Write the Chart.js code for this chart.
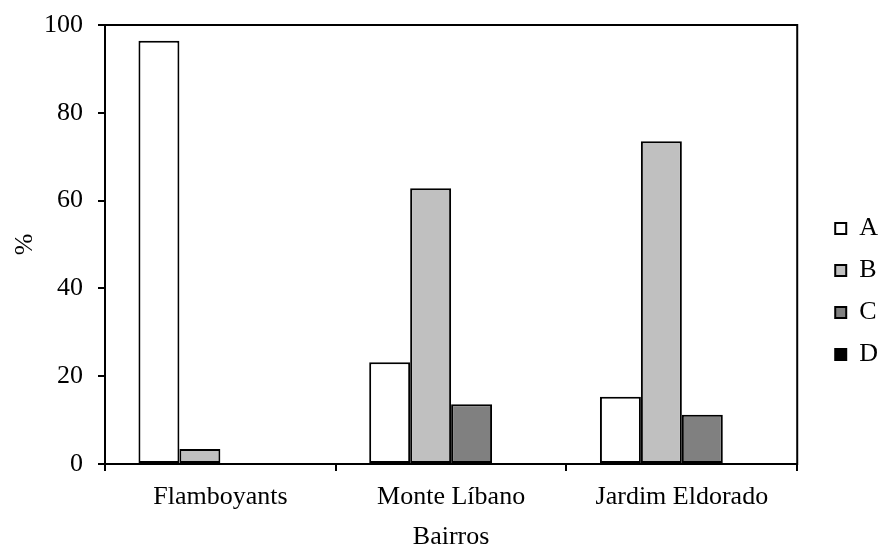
<!DOCTYPE html>
<html>
<head>
<meta charset="utf-8">
<script src="https://cdn.jsdelivr.net/npm/chart.js@4/dist/chart.umd.min.js"></script>
<style>
  html, body { margin: 0; padding: 0; background: #fff; }
  #wrap { width: 880px; height: 546px; }
</style>
</head>
<body>
<div id="wrap"><canvas id="grafic" width="880" height="546"></canvas></div>
<script>
////////////////////////////// dades ////////////////////////////////////////////
var bairros = ["Flamboyants", "Monte Líbano", "Jardim Eldorado"]
var serieA = [96.4, 23.2, 15.3]
var serieB = [3.4, 62.8, 73.5]
var serieC = [0, 13.6, 11.2]
var serieD = [0, 0, 0]
var ticksY = [0, 20, 40, 60, 80, 100]
////////////////////////////////////////////////////////////////////////////////

var font_serif = "'Liberation Serif', 'Times New Roman', serif"

// marc negre al voltant de l'area del grafic
var marc = {
  id: 'marc',
  afterDraw: function(chart) {
    var a = chart.chartArea
    var ctx = chart.ctx
    ctx.save()
    ctx.strokeStyle = '#000'
    ctx.lineWidth = 2
    ctx.strokeRect(a.left, a.top, a.right - a.left, a.bottom - a.top)
    ctx.restore()
  }
}

function serie(label, color, valors) {
  return {
    label: label,
    data: valors,
    backgroundColor: color,
    borderColor: '#000',
    borderWidth: 2,
    borderSkipped: false,
    categoryPercentage: 0.71,
    barPercentage: 1.0
  }
}

var ctx = document.getElementById('grafic').getContext('2d')
var grafic = new Chart(ctx, {
  type: 'bar',
  data: {
    labels: bairros,
    datasets: [
      serie("A", '#ffffff', serieA),
      serie("B", '#c0c0c0', serieB),
      serie("C", '#808080', serieC),
      serie("D", '#000000', serieD)
    ]
  },
  plugins: [marc],
  options: {
    responsive: false,
    animation: false,
    layout: { padding: { left: 10, right: -8, top: 0, bottom: -7 } },
    plugins: {
      tooltip: { enabled: false },
      legend: {
        position: 'right',
        align: 'center',
        title: { display: true, text: '', font: { size: 10 }, padding: 9 },
        labels: {
          boxWidth: 11,
          boxHeight: 11,
          padding: 16,
          color: '#000',
          font: { family: font_serif, size: 26 }
        }
      }
    },
    scales: {
      x: {
        offset: true,
        afterFit: function(s) { s.height = 89 },
        grid: {
          offset: true,
          drawOnChartArea: false,
          drawTicks: true,
          tickLength: 7,
          color: '#000',
          lineWidth: 2
        },
        border: { color: '#000', width: 2 },
        ticks: {
          color: '#000',
          padding: 11,
          font: { family: font_serif, size: 26 }
        },
        title: {
          display: true,
          text: 'Bairros',
          color: '#000',
          padding: { top: 0, bottom: 0 },
          font: { family: font_serif, size: 26 }
        }
      },
      y: {
        min: 0,
        max: 100,
        afterFit: function(s) {
          s.width = 95
          s.paddingTop = 25
        },
        afterBuildTicks: function(axis) {
          axis.ticks = ticksY.map(function(v) { return { value: v } })
        },
        grid: {
          drawOnChartArea: false,
          drawTicks: true,
          tickLength: 7,
          color: '#000',
          lineWidth: 2
        },
        border: { color: '#000', width: 2 },
        ticks: {
          color: '#000',
          padding: 15,
          font: { family: font_serif, size: 26 }
        },
        title: {
          display: true,
          text: '%',
          color: '#000',
          padding: { top: 0, bottom: 0 },
          font: { family: font_serif, size: 26 }
        }
      },
      // eix buit a la dreta per deixar espai abans de la llegenda
      y2: {
        position: 'right',
        grid: { display: false },
        border: { display: false },
        ticks: { display: false },
        afterFit: function(s) { s.width = 22 }
      }
    }
  }
})
</script>
</body>
</html>
